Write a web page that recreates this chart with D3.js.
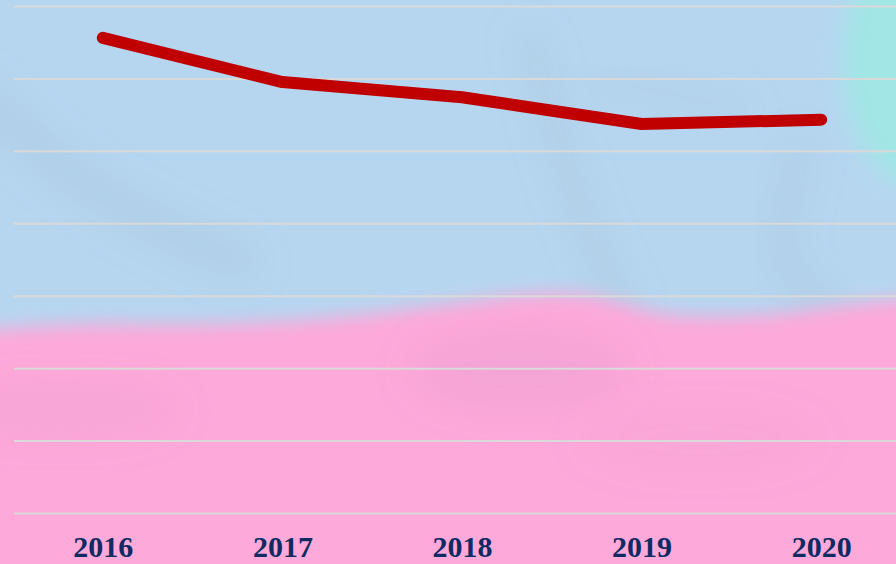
<!DOCTYPE html>
<html>
<head>
<meta charset="utf-8">
<script src="https://cdn.jsdelivr.net/npm/d3@7/dist/d3.min.js"></script>
<style>
  html, body { margin: 0; padding: 0; background: #b6d6f0; overflow: hidden; }
  svg { display: block; }
</style>
</head>
<body>
<svg id="chart" width="896" height="564"></svg>
<script>
// ---- data ----
const years = ["2016", "2017", "2018", "2019", "2020"];
const values = [65.6, 59.5, 57.4, 53.7, 54.3];
const gridTicks = [0, 10, 20, 30, 40, 50, 60, 70];

// ---- decorative background (blurred picture fill) ----
const pinkEdge = [[-40,332],[80,322],[200,326],[330,319],[450,304],[560,289],[615,300],[660,316],[730,317],[800,312],[860,302],[940,296]];
const streaks = [
  {pts: [[-20,95],[60,170],[150,225],[240,262]], w: 40, o: 0.14},
  {pts: [[530,40],[560,150],[590,240],[625,310]], w: 26, o: 0.16},
  {pts: [[800,150],[790,200],[770,260],[830,310]], w: 30, o: 0.14},
  {pts: [[600,80],[680,95],[740,110]], w: 30, o: 0.10}
];
const pinkShades = [
  {cx: 520, cy: 370, rx: 110, ry: 40, o: 0.22},
  {cx: 60, cy: 410, rx: 120, ry: 30, o: 0.15},
  {cx: 700, cy: 440, rx: 120, ry: 30, o: 0.10}
];

const W = 896, H = 564;
const svg = d3.select("#chart");
const defs = svg.append("defs");
defs.append("filter").attr("id", "blur").attr("x", "-20%").attr("y", "-20%").attr("width", "140%").attr("height", "140%")
  .append("feGaussianBlur").attr("stdDeviation", 9);
defs.append("filter").attr("id", "blurMid").attr("x", "-50%").attr("y", "-50%").attr("width", "200%").attr("height", "200%")
  .append("feGaussianBlur").attr("stdDeviation", 12);
defs.append("filter").attr("id", "blurBig").attr("x", "-50%").attr("y", "-50%").attr("width", "200%").attr("height", "200%")
  .append("feGaussianBlur").attr("stdDeviation", 18);

const bg = svg.append("g");
bg.append("rect").attr("width", W).attr("height", H).attr("fill", "#b6d6f0");
bg.append("ellipse").attr("cx", 915).attr("cy", 60).attr("rx", 72).attr("ry", 125)
  .attr("fill", "#a2e6e6").attr("filter", "url(#blurMid)");
const line0 = d3.line().curve(d3.curveBasis);
streaks.forEach(s => {
  bg.append("path").attr("d", line0(s.pts)).attr("fill", "none")
    .attr("stroke", "#8f9fb0").attr("stroke-opacity", s.o).attr("stroke-width", s.w)
    .attr("stroke-linecap", "round").attr("filter", "url(#blurBig)");
});
const area0 = d3.area().curve(d3.curveBasis).y1(H + 60);
bg.append("path")
  .attr("d", area0.x(d => d[0]).y0(d => d[1])(pinkEdge))
  .attr("fill", "#fda9da").attr("filter", "url(#blur)");
pinkShades.forEach(p => {
  bg.append("ellipse").attr("cx", p.cx).attr("cy", p.cy).attr("rx", p.rx).attr("ry", p.ry)
    .attr("fill", "#d690c8").attr("fill-opacity", p.o).attr("filter", "url(#blurBig)");
});

// ---- scales ----
const x = d3.scalePoint().domain(years).range([13, 911]).padding(0.5);
const y = d3.scaleLinear().domain([0, 70]).range([513, 6]);

// ---- gridlines ----
svg.append("g")
  .attr("transform", "translate(14,0)")
  .call(d3.axisLeft(y).tickValues(gridTicks).tickSize(-(W - 14)).tickFormat(""))
  .call(g => g.select(".domain").remove())
  .call(g => g.selectAll(".tick line").attr("stroke", "#d9d9d9").attr("stroke-width", 2));

// ---- x labels ----
svg.append("g")
  .attr("transform", "translate(0,513)")
  .call(d3.axisBottom(x).tickSize(0).tickPadding(0))
  .call(g => g.select(".domain").remove())
  .call(g => g.selectAll(".tick text")
    .attr("y", 44).attr("dy", 0)
    .attr("font-family", "'Liberation Serif', 'Times New Roman', serif")
    .attr("font-weight", "bold").attr("font-size", "30px")
    .attr("fill", "#102a62"));

// ---- line ----
svg.append("path")
  .datum(values)
  .attr("fill", "none")
  .attr("stroke", "#c00000")
  .attr("stroke-width", 12)
  .attr("stroke-linecap", "round")
  .attr("stroke-linejoin", "round")
  .attr("d", d3.line().x((d, i) => x(years[i])).y(d => y(d)));
</script>
</body>
</html>
